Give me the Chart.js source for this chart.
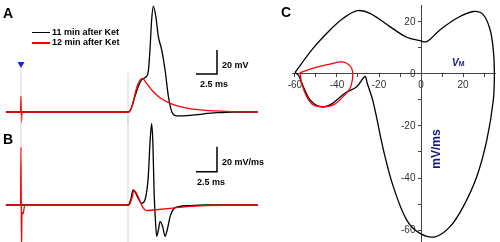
<!DOCTYPE html>
<html>
<head>
<meta charset="utf-8">
<script src="https://cdn.jsdelivr.net/npm/chart.js@4.4.0/dist/chart.umd.min.js"></script>
<style>
  body { margin: 0; background: #fff; }
  #fig { position: relative; width: 500px; height: 242px; overflow: hidden; font-family: Arial, "Liberation Sans", sans-serif; }
  .pane { position: absolute; }
  .lbl { position: absolute; white-space: nowrap; line-height: 1; font-weight: bold; color: #000; }
  .navy { color: #1a1a86; }
  .key { position: absolute; width: 18px; height: 1.5px; }
</style>
</head>
<body>
<div id="fig">
  <canvas id="chartA" class="pane" width="280" height="125" style="left:0;top:0"></canvas>
  <canvas id="chartB" class="pane" width="280" height="127" style="left:0;top:115px"></canvas>
  <canvas id="chartC" class="pane" width="220" height="242" style="left:280px;top:0"></canvas>

  <div class="lbl" style="left:3px;top:6px;font-size:14px">A</div>
  <div class="lbl" style="left:3px;top:132px;font-size:14px">B</div>
  <div class="lbl" style="left:281px;top:5px;font-size:14px">C</div>

  <div class="key" style="left:32px;top:31.5px;background:#000"></div>
  <div class="lbl" style="left:52px;top:27.5px;font-size:9px">11 min after Ket</div>
  <div class="key" style="left:32px;top:42px;background:#ff0000"></div>
  <div class="lbl" style="left:52px;top:38px;font-size:9px">12 min after Ket</div>

  <div class="lbl" style="left:222px;top:60.7px;font-size:9px">20 mV</div>
  <div class="lbl" style="left:200px;top:79.7px;font-size:9px">2.5 ms</div>
  <div class="lbl" style="left:222px;top:158px;font-size:9px">20 mV/ms</div>
  <div class="lbl" style="left:197px;top:178px;font-size:9px">2.5 ms</div>

  <div class="lbl navy" style="left:452px;top:58px;font-size:10px"><i>V</i><span style="font-size:7px">M</span></div>
  <div class="lbl navy" style="left:436px;top:149px;font-size:12px;transform:translate(-50%,-50%) rotate(-90deg)">mV/ms</div>
</div>
<script>
// membrane potential traces (A), time in ms from stimulus, mV
const tBlackA = [-1.8, 12.75, 13.2, 13.55, 13.95, 14.35, 14.9, 15.15, 15.35, 15.55, 15.75, 16.05, 16.35, 16.75, 17.15, 17.55, 17.95, 18.55, 19.75, 21.3, 23.3, 25.25, 28.2];
const vBlackA = [-60, -60, -55.6, -47.3, -38.9, -33.3, -30.6, -26.4, -8.3, 16.7, 28.3, 19.4, 2.8, -8.3, -25, -47.3, -59.8, -63.3, -63.1, -61.9, -60.6, -60, -60];
const tRedA = [-1.8, -0.05, 0, 0.05, 0.12, 12.9, 13.4, 13.8, 14.2, 14.45, 14.95, 15.75, 16.55, 17.75, 19.3, 21.3, 24.5, 28.2];
const vRedA = [-60, -60, -46.7, -68.3, -60, -60, -50, -38.9, -33.3, -31.9, -36.1, -43.1, -48.1, -52.8, -56.1, -58.3, -59.4, -60];

// first derivative traces (B), mV/ms
const tBlackB = [-1.8, 12.75, 13.05, 13.35, 13.55, 13.95, 14.35, 14.75, 15.15, 15.35, 15.55, 15.7, 15.85, 16.0, 16.15, 16.35, 16.55, 16.85, 17.15, 17.4, 17.75, 18.15, 18.75, 20.1, 22.1, 28.2];
const dvBlackB = [0, 0, 4, 12, 10.7, 5.3, 1.3, 4, 22.7, 49, 65, 49, 9.3, -12, -25, -20, -13.3, -17, -25, -20, -9.3, -3.2, -1.3, -0.5, 0, 0];
const tRedB = [-1.8, -0.05, 0, 0.06, 0.12, 0.25, 0.45, 12.85, 13.2, 13.45, 13.7, 14.1, 14.5, 14.95, 15.75, 17.75, 19.75, 22.1, 25, 28.2];
const dvRedB = [0, 0, 46.4, -36, -6, -7, 0, 0, 5.3, 11.5, 10, 4, -1.9, -4.5, -4, -2.7, -1.3, -0.5, 0, 0];

// phase plots (C): Vm (mV) vs dV/dt (mV/ms)
const loopVBlack = [-60, -51.3, -43.3, -37, -30.3, -24.3, -14.8, -6.8, -0.5, 2.7, 9, 17, 24.9, 29.7, 32.9, 34.4, 34.9, 34.4, 31.3, 26.5, 20.1, 13.8, 6.7, -0.5, -6.8, -13.2, -17.9, -22.7, -25.6, -26.7, -30.6, -36.2, -43.3, -48, -52.8, -56, -58.4, -60];
const loopDVBlack = [0.5, 9.9, 16.9, 21.4, 24.3, 23.3, 18.2, 14.1, 12.8, 12.4, 16.9, 21.4, 24, 22.7, 16.9, 9.2, 0.3, -10, -25.4, -39.5, -51, -58.7, -62.6, -61.3, -56.2, -43.3, -29.2, -11, -3.6, -1, -4.9, -7.4, -11.9, -12.6, -10, -4.9, -0.4, 0.5];
const loopVRed = [-57.6, -51.3, -43.3, -38.6, -35.4, -33, -32.5, -33.8, -37.8, -41.7, -46.5, -51.3, -54.4, -56.8, -57.6];
const loopDVRed = [0.5, 2.2, 3.8, 4.6, 4.1, 2.2, -1, -5.5, -9.3, -11.9, -12.6, -11.9, -8.7, -3.6, 0.5];

// C axis ticks
const xTicksC = [-60, -40, -20, 0, 20];
const yTicksC = [-60, -40, -20, 0, 20];

const stimTime = 0;
const onsetTime = 12.74;
const barTime = 2.5, barVolt = 20, barSlope = 20;

const RED = '#ff0000';
const FAINT = 'rgba(200,200,220,0.3)';

function pts(xs, ys) {
  return xs.map((x, i) => ({ x: x, y: ys[i] }));
}

function straight(data, color, width) {
  return { data: data, borderColor: color, borderWidth: width, tension: 0, cubicInterpolationMode: 'default', order: 2 };
}

function traceChart(id, yMin, yMax, datasets) {
  return new Chart(document.getElementById(id), {
    type: 'line',
    data: { datasets: datasets },
    options: {
      responsive: false,
      animation: false,
      layout: { padding: 0, autoPadding: false },
      plugins: { legend: { display: false }, tooltip: { enabled: false } },
      elements: {
        point: { radius: 0 },
        line: { borderWidth: 1.3, cubicInterpolationMode: 'monotone' }
      },
      scales: {
        x: { type: 'linear', min: -2.5, max: 30.83, display: false },
        y: { type: 'linear', min: yMin, max: yMax, display: false }
      }
    }
  });
}

// panel A
traceChart('chartA', -70.83, 33.33, [
  { data: pts(tRedA, vRedA), borderColor: RED, order: 0 },
  { data: pts(tBlackA, vBlackA), borderColor: '#000', order: 1 },
  straight([{ x: stimTime, y: -24 }, { x: stimTime, y: -47 }], FAINT, 1),
  straight([{ x: stimTime, y: -68.3 }, { x: stimTime, y: -71 }], FAINT, 1),
  straight([{ x: onsetTime, y: -27.5 }, { x: onsetTime, y: -71 }], FAINT, 1),
  straight([{ x: 23.33, y: -28.33 + barVolt }, { x: 23.33, y: -28.33 }, { x: 23.33 - barTime, y: -28.33 }], '#000', 1.5),
  { data: [{ x: stimTime, y: -20 }], showLine: false, pointStyle: 'triangle', rotation: 180,
    pointRadius: 4, pointBackgroundColor: '#1a1aff', pointBorderWidth: 0, order: 0 }
]);

// panel B
traceChart('chartB', -29.6, 72, [
  { data: pts(tRedB, dvRedB), borderColor: RED, order: 0 },
  { data: pts(tBlackB, dvBlackB), borderColor: '#000', order: 1 },
  straight([{ x: stimTime, y: 73 }, { x: stimTime, y: 46.4 }], FAINT, 1),
  straight([{ x: onsetTime, y: 73 }, { x: onsetTime, y: -30 }], FAINT, 1),
  straight([{ x: 23.33, y: 26.6 + barSlope }, { x: 23.33, y: 26.6 }, { x: 23.33 - barTime, y: 26.6 }], '#000', 1.5)
]);

// panel C
const tickFont = { family: 'Arial, "Liberation Sans", sans-serif', size: 10 };
function axisC(min, max, pos, labels, horizontal) {
  return {
    type: 'linear', min: min, max: max, position: pos,
    afterFit: (s) => {
      if (horizontal) s.height = 0; else s.width = 0;
      s.paddingLeft = s.paddingRight = s.paddingTop = s.paddingBottom = 0;
    },
    grid: { drawOnChartArea: false, tickLength: 3, color: '#444' },
    border: { color: '#444', width: 1 },
    ticks: {
      stepSize: 10, includeBounds: false, autoSkip: false, maxRotation: 0, padding: 2,
      color: '#333', font: tickFont,
      // labels of the centred y axis would sit on the axis line, so pad them on the right
      callback: (v) => labels.includes(v) ? (horizontal ? String(v) : v + '  ') : ''
    }
  };
}

new Chart(document.getElementById('chartC'), {
  type: 'scatter',
  data: {
    datasets: [
      { data: pts(loopVRed, loopDVRed), borderColor: RED, showLine: true, order: 0 },
      { data: pts(loopVBlack, loopDVBlack), borderColor: '#000', showLine: true, order: 1 }
    ]
  },
  options: {
    responsive: false,
    animation: false,
    layout: { padding: { left: 12, right: 5, top: 5, bottom: 0 }, autoPadding: false },
    plugins: { legend: { display: false }, tooltip: { enabled: false } },
    elements: { point: { radius: 0 }, line: { borderWidth: 1.3, tension: 0.35 } },
    scales: {
      x: axisC(-61.4, 35.2, { y: 0 }, xTicksC, true),
      y: axisC(-64.6, 26.5, { x: 0 }, yTicksC, false)
    }
  }
});
</script>
</body>
</html>
